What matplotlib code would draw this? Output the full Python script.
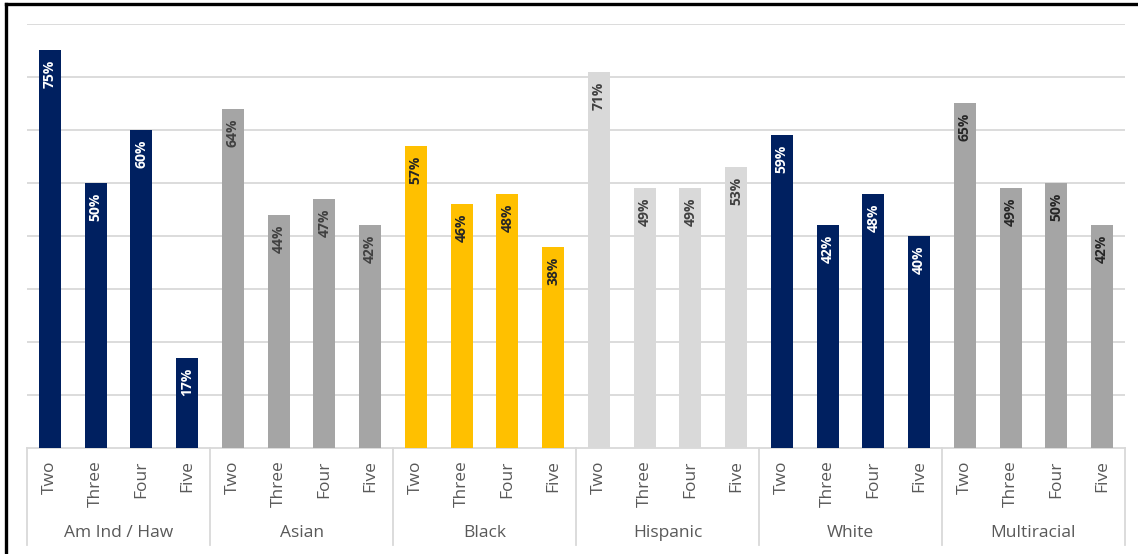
import numpy as np
import matplotlib
matplotlib.use("Agg")
import matplotlib.pyplot as plt
from matplotlib.lines import Line2D
import matplotlib.transforms as mtransforms

plt.rcParams['font.family'] = ['Open Sans', 'DejaVu Sans']

groups = ['Am Ind / Haw', 'Asian', 'Black', 'Hispanic', 'White', 'Multiracial']
sizes = ['Two', 'Three', 'Four', 'Five']

am_ind = [75, 50, 60, 17]
asian = [64, 44, 47, 42]
black = [57, 46, 48, 38]
hispanic = [71, 49, 49, 53]
white = [59, 42, 48, 40]
multiracial = [65, 49, 50, 42]

group_vals = [am_ind, asian, black, hispanic, white, multiracial]
group_colors = ['#002060', '#A5A5A5', '#FFC000', '#D9D9D9', '#002060', '#A5A5A5']
label_colors = ['white', '#404040', '#262626', '#404040', 'white', '#262626']

W, H = 1138, 554
fig = plt.figure(figsize=(W / 100, H / 100), dpi=100)
ax = fig.add_axes([27 / W, 1 - 448 / H, (1125 - 27) / W, (448 - 24) / H])

n = len(sizes)
x = 0
for gi, vals in enumerate(group_vals):
    for si, v in enumerate(vals):
        ax.bar(x, v, width=0.48, color=group_colors[gi], zorder=3)
        ax.annotate(f'{v}%', (x, v), xytext=(0, -7), textcoords='offset points',
                    rotation=90, ha='center', va='top', fontsize=10,
                    color=label_colors[gi], fontweight='bold', zorder=4)
        x += 1

total = len(groups) * n
ax.set_xlim(-0.5, total - 0.5)
ax.set_ylim(0, 80)
ax.set_yticks(np.arange(10, 81, 10))
ax.yaxis.grid(True, color='#D9D9D9', linewidth=1.3, zorder=0)
ax.tick_params(axis='y', left=False, labelleft=False)
for s in ['top', 'right', 'left']:
    ax.spines[s].set_visible(False)
ax.spines['bottom'].set_color('#D9D9D9')
ax.spines['bottom'].set_linewidth(1.3)

ax.set_xticks(range(total))
ax.set_xticklabels(sizes * len(groups), rotation=90, fontsize=12.5, color='#595959')
ax.tick_params(axis='x', length=0, pad=9)
for lab in ax.get_xticklabels():
    lab.set_verticalalignment('top')

trans = mtransforms.blended_transform_factory(ax.transData, ax.transAxes)
sep_bottom = -(545 - 448) / 424
for g in range(len(groups) + 1):
    xs = g * n - 0.5
    ax.add_line(Line2D([xs, xs], [0, sep_bottom], transform=trans, color='#D9D9D9',
                       linewidth=1.3, clip_on=False))
for g, name in enumerate(groups):
    ax.text(g * n + (n - 1) / 2, -(533 - 448) / 424, name, transform=trans,
            ha='center', va='center', fontsize=12.5, color='#595959')

# chart border (top and left visible in the crop)
fig.add_artist(Line2D([6 / W, 1], [1 - 4 / H, 1 - 4 / H], transform=fig.transFigure,
                      color='black', linewidth=2.4))
fig.add_artist(Line2D([6 / W, 6 / W], [0, 1 - 4 / H], transform=fig.transFigure,
                      color='black', linewidth=2.4))

fig.savefig('out.png', dpi=100)
